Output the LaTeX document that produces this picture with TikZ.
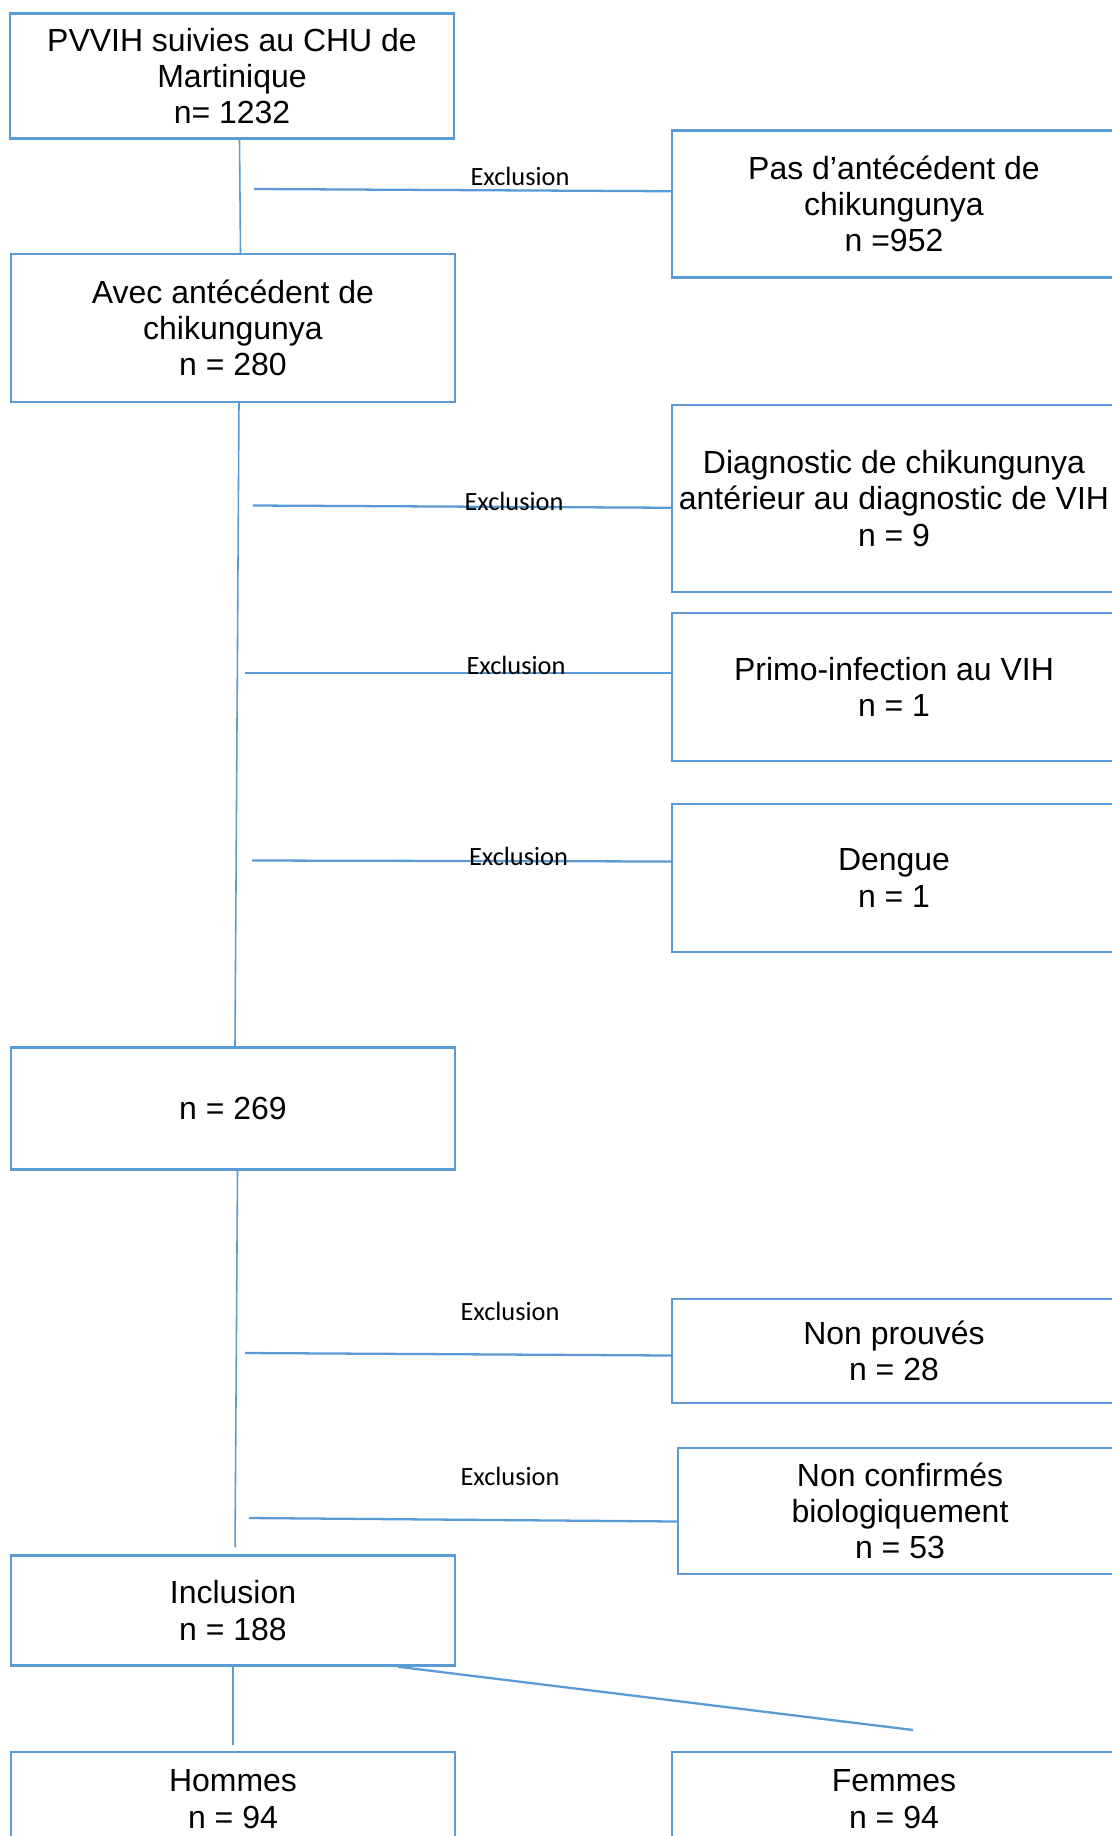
\documentclass[tikz,border=0pt]{standalone}
\usepackage{fontspec}
\setmainfont{Liberation Sans}
\newfontfamily\exclfont{Carlito}
\definecolor{flowblue}{RGB}{91,155,213}

\begin{document}
\begin{tikzpicture}[x=0.02cm,y=-0.02cm,
    box/.style={draw=flowblue, line width=1.3pt, inner sep=0pt, align=center,
        minimum width=8.88cm, font=\fontsize{18.2}{20.6}\selectfont},
    link/.style={draw=flowblue, line width=0.9pt},
    excl/.style={draw=flowblue, line width=1.3pt},
    lab/.style={font=\exclfont\fontsize{15}{18}\selectfont, inner sep=0pt}]
        \useasboundingbox (0,0) rectangle (1112,1836);
        \clip (0,0) rectangle (1112,1836);
        % Left column
        \node[box, minimum height=2.5cm] (pvvih) at (232,76) {PVVIH suivies au CHU de\\Martinique\\n= 1232};
        \node[box, minimum height=2.95cm] (avec) at (233,328) {Avec antécédent de\\chikungunya\\n = 280};
        \node[box, minimum height=2.44cm] (n269) at (233,1108.5) {n = 269};
        \node[box, minimum height=2.2cm] (incl) at (233,1610.6) {Inclusion\\n = 188};
        \node[box, minimum height=1.88cm, anchor=north] (hommes) at (233,1751) {Hommes\\n = 94};
        % Right column (exclusions)
        \node[box, minimum height=2.94cm] (pasante) at (894,204) {Pas d’antécédent de\\chikungunya\\n =952};
        \node[box, minimum height=3.74cm] (diag) at (894,498.5) {Diagnostic de chikungunya\\antérieur au diagnostic de VIH\\n = 9};
        \node[box, minimum height=2.96cm] (primo) at (894,687) {Primo-infection au VIH\\n = 1};
        \node[box, minimum height=2.95cm] (dengue) at (894,878) {Dengue\\n = 1};
        \node[box, minimum height=2.08cm] (nonprouv) at (894,1351) {Non prouvés\\n = 28};
        \node[box, minimum height=2.53cm] (nonconf) at (900,1511) {Non confirmés\\biologiquement\\n = 53};
        \node[box, minimum height=1.88cm, anchor=north] (femmes) at (894,1751) {Femmes\\n = 94};
        % Main flow
        \draw[link] ([xshift=0.15cm]pvvih.south) -- ([xshift=0.15cm]avec.north);
        \draw[link] ([xshift=0.12cm]avec.south) -- ([xshift=0.04cm]n269.north);
        \draw[link, shorten >=0.14cm] ([xshift=0.09cm]n269.south) -- ([xshift=0.04cm]incl.north);
        \draw[link, shorten >=0.12cm] (incl) -- (hommes);
        \coordinate (fem) at (913,1730);
        \draw[link, line width=1.3pt] ([xshift=3.3cm]incl.south) -- (fem);
        % Exclusion branches
        \coordinate (e1) at (254,189);
        \coordinate (e2) at (253,505.5);
        \coordinate (e3) at (245,673);
        \coordinate (e4) at (252,860.5);
        \coordinate (e5) at (245,1353);
        \coordinate (e6) at (249,1518);
        \draw[excl] (e1) -- ([yshift=-0.045cm]e1 -| pasante.west);
        \draw[excl] (e2) -- ([yshift=-0.045cm]e2 -| diag.west);
        \draw[excl] (e3) -- (e3 -| primo.west);
        \draw[excl] (e4) -- ([yshift=-0.02cm]e4 -| dengue.west);
        \draw[excl] (e5) -- ([yshift=-0.05cm]e5 -| nonprouv.west);
        \draw[excl] (e6) -- ([yshift=-0.07cm]e6 -| nonconf.west);
        \node[lab] (lab1) at (520,176) {Exclusion};
        \node[lab] (lab2) at (514,501) {Exclusion};
        \node[lab] (lab3) at (516,665) {Exclusion};
        \node[lab] (lab4) at (518.5,856) {Exclusion};
        \node[lab] (lab5) at (510,1311) {Exclusion};
        \node[lab] (lab6) at (510,1476) {Exclusion};
    \end{tikzpicture}
\end{document}
